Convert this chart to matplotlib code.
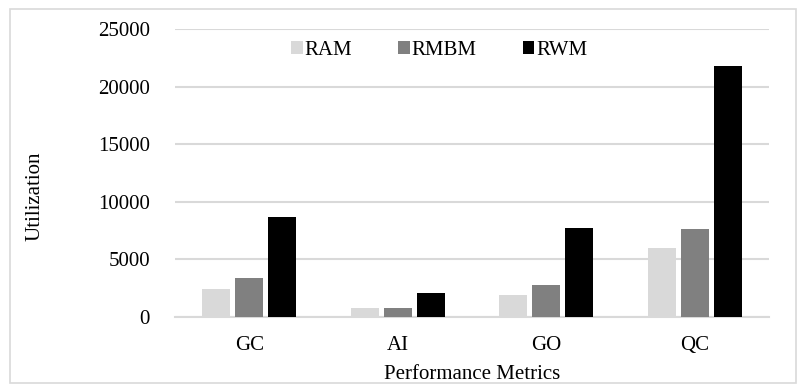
import matplotlib.pyplot as plt
import numpy as np
from matplotlib.patches import Rectangle

# Data
categories = ["GC", "AI", "GO", "QC"]
ram = [2400, 780, 1950, 6030]
rmbm = [3420, 780, 2750, 7630]
rwm = [8700, 2050, 7770, 21800]
series_names = ["RAM", "RMBM", "RWM"]
colors = ["#d9d9d9", "#808080", "#000000"]

plt.rcParams['font.family'] = ['Liberation Serif', 'DejaVu Serif']

fig = plt.figure(figsize=(7.98, 3.85), dpi=100)
ax = fig.add_axes([175 / 798, 1 - 317 / 385, (769 - 175) / 798, (317 - 29.3) / 385])

x = np.arange(len(categories))
slot = 0.222
width = 0.189
for i, (vals, name, c) in enumerate(zip([ram, rmbm, rwm], series_names, colors)):
    ax.bar(x + (i - 1) * slot, vals, width, color=c, label=name, zorder=3)

ax.set_xlim(-0.5, 3.5)
ax.set_ylim(0, 25000)
ax.set_yticks(range(0, 25001, 5000))
ax.set_xticks(x)
ax.set_xticklabels(categories)
ax.tick_params(axis='both', length=0, labelsize=15, colors='black')
ax.tick_params(axis='x', pad=14)
ax.tick_params(axis='y', pad=18)
ax.grid(axis='y', color='#d9d9d9', linewidth=1.5, zorder=0)
for s in ['top', 'right', 'left']:
    ax.spines[s].set_visible(False)
ax.spines['bottom'].set_color('#d9d9d9')
ax.spines['bottom'].set_linewidth(1.5)

ax.set_xlabel("Performance Metrics", fontsize=15, labelpad=7)
fig.text(35 / 798, 1 - 196 / 385, "Utilization", rotation=90, fontsize=15,
         ha='center', va='center')

ax.legend(loc='upper center', bbox_to_anchor=(0.445, 1.025), ncol=3, frameon=False,
          fontsize=15, handlelength=0.55, handleheight=0.55, handletextpad=0.1,
          columnspacing=2.2)

# outer chart border
fig.patches.append(Rectangle((10 / 798, 2 / 385), 786 / 798, 374 / 385,
                             transform=fig.transFigure, fill=False,
                             edgecolor='#d9d9d9', linewidth=1.2))

plt.savefig("out.png", dpi=100)
